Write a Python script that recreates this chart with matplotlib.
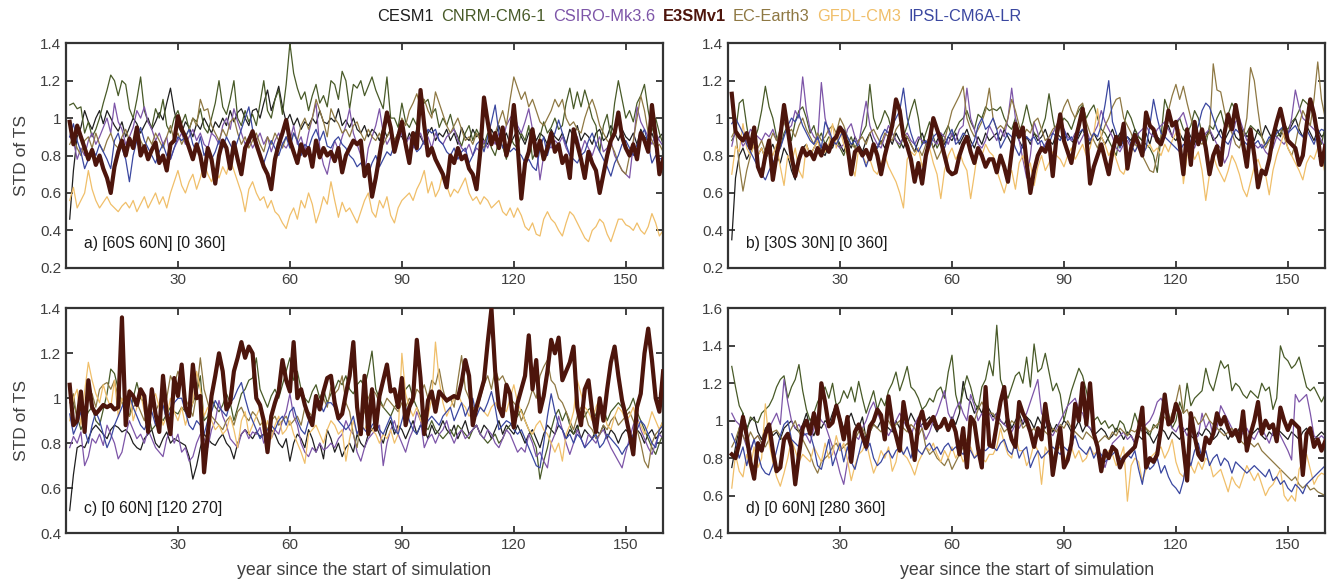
import numpy as np
import matplotlib
matplotlib.use('Agg')
import matplotlib.pyplot as plt
from matplotlib.ticker import FuncFormatter

plt.rcParams['font.family'] = ['Liberation Sans', 'DejaVu Sans']

# STD of TS (x100), one value per simulated year
years = np.arange(1, 161)
models = ['CESM1', 'CNRM-CM6-1', 'CSIRO-Mk3.6', 'E3SMv1', 'EC-Earth3', 'GFDL-CM3', 'IPSL-CM6A-LR']
colors = ['#1f1f1f', '#485a28', '#7d55a8', '#4d150c', '#8e7843', '#f0bf6a', '#3a47a0']
panel_labels = ['a) [60S 60N] [0 360]', 'b) [30S 30N] [0 360]',
                'c) [0 60N] [120 270]', 'd) [0 60N] [280 360]']
ylims = [(0.2, 1.4), (0.2, 1.4), (0.4, 1.4), (0.4, 1.6)]

# ---- panel a
cesm1_a = [46, 72, 90, 95, 104, 98, 94, 100, 104, 97, 104, 100, 96, 93, 98, 90, 95, 100, 97, 92,
           96, 100, 94, 98, 103, 99, 108, 116, 104, 96, 92, 98, 95, 90, 97, 94, 100, 96, 92, 98,
           95, 100, 96, 104, 98, 103, 105, 100, 96, 104, 105, 100, 108, 115, 104, 110, 117, 106, 98, 102,
           96, 100, 94, 98, 96, 100, 97, 104, 98, 97, 100, 98, 105, 96, 99, 95, 100, 94, 92, 96,
           90, 94, 92, 88, 95, 90, 94, 88, 92, 90, 86, 92, 88, 94, 90, 86, 92, 95, 88, 92,
           90, 94, 88, 92, 86, 95, 90, 88, 94, 90, 92, 88, 86, 94, 90, 96, 88, 92, 86, 90,
           94, 90, 86, 92, 95, 88, 92, 90, 86, 94, 90, 88, 92, 86, 94, 90, 96, 88, 92, 90,
           86, 92, 94, 88, 90, 96, 92, 88, 94, 90, 88, 92, 86, 94, 90, 88, 92, 86, 90, 92]
cnrm_a = [107, 108, 105, 106, 92, 98, 90, 94, 100, 108, 115, 123, 120, 112, 120, 118, 105, 100, 110, 122,
          104, 98, 95, 105, 100, 110, 96, 92, 100, 104, 97, 102, 94, 100, 98, 105, 95, 92, 100, 108,
          120, 106, 102, 110, 120, 100, 96, 104, 98, 102, 96, 108, 120, 104, 100, 110, 115, 102, 118, 140,
          124, 116, 110, 114, 104, 112, 118, 108, 112, 106, 120, 118, 110, 125, 120, 105, 118, 116, 120, 112,
          117, 122, 115, 110, 105, 122, 100, 100, 95, 108, 98, 95, 100, 96, 114, 108, 110, 102, 105, 95,
          100, 96, 102, 94, 90, 85, 92, 96, 88, 94, 90, 86, 92, 84, 80, 88, 85, 78, 90, 86,
          84, 92, 88, 96, 78, 83, 90, 98, 92, 95, 100, 94, 96, 108, 116, 105, 114, 106, 115, 108,
          100, 96, 82, 96, 102, 90, 108, 120, 110, 100, 104, 98, 108, 112, 118, 104, 93, 100, 92, 86]
csiro_a = [90, 88, 78, 84, 80, 88, 92, 86, 90, 95, 100, 92, 108, 98, 94, 86, 90, 95, 104, 100,
           106, 98, 94, 88, 92, 86, 90, 78, 84, 88, 92, 86, 90, 94, 88, 92, 86, 84, 92, 90,
           86, 96, 100, 94, 105, 98, 92, 86, 90, 84, 88, 92, 86, 90, 82, 88, 92, 86, 84, 88,
           96, 86, 90, 82, 92, 100, 108, 84, 75, 70, 80, 88, 83, 90, 96, 105, 92, 86, 80, 70,
           84, 90, 96, 105, 92, 86, 90, 84, 88, 92, 86, 90, 84, 88, 92, 86, 90, 84, 92, 88,
           86, 90, 92, 94, 88, 84, 82, 86, 80, 84, 82, 88, 84, 90, 86, 92, 88, 96, 100, 103,
           96, 92, 98, 105, 94, 86, 67, 80, 86, 84, 88, 86, 90, 84, 80, 86, 90, 82, 88, 84,
           80, 86, 90, 82, 84, 88, 80, 76, 72, 70, 68, 86, 106, 98, 94, 90, 86, 92, 88, 85]
e3sm_a = [98, 86, 96, 90, 84, 78, 83, 75, 80, 73, 68, 60, 74, 82, 88, 80, 89, 84, 95, 80,
          85, 78, 83, 87, 76, 80, 72, 86, 88, 101, 94, 90, 84, 78, 86, 80, 69, 84, 78, 65,
          80, 88, 84, 73, 87, 78, 70, 84, 88, 93, 86, 80, 74, 70, 62, 78, 86, 92, 99, 88,
          82, 76, 86, 80, 84, 74, 88, 79, 84, 80, 82, 77, 84, 71, 80, 84, 88, 86, 88, 69,
          75, 58, 68, 80, 92, 103, 95, 82, 90, 98, 86, 76, 92, 84, 115, 96, 80, 84, 78, 74,
          70, 63, 80, 76, 84, 78, 80, 73, 70, 62, 82, 111, 98, 86, 92, 84, 95, 80, 88, 107,
          86, 57, 76, 82, 94, 80, 88, 78, 84, 92, 82, 86, 76, 80, 68, 94, 86, 78, 68, 82,
          76, 72, 60, 70, 80, 88, 92, 103, 90, 84, 80, 86, 78, 92, 88, 82, 107, 90, 70, 78]
ec_a = [86, 90, 84, 80, 88, 90, 84, 92, 86, 82, 88, 92, 86, 84, 90, 94, 88, 86, 92, 88,
        84, 90, 86, 92, 88, 84, 90, 96, 88, 92, 86, 90, 94, 100, 96, 110, 104, 105, 96, 92,
        88, 94, 90, 98, 100, 92, 86, 90, 84, 88, 92, 86, 82, 90, 86, 92, 88, 84, 90, 86,
        92, 88, 96, 100, 94, 100, 110, 104, 98, 90, 105, 100, 97, 92, 94, 90, 96, 98, 92, 88,
        94, 90, 88, 92, 86, 90, 94, 88, 92, 100, 96, 104, 108, 113, 106, 110, 104, 100, 114, 108,
        102, 96, 92, 96, 100, 94, 88, 90, 86, 92, 88, 84, 90, 86, 92, 98, 104, 96, 110, 122,
        116, 110, 114, 106, 110, 104, 98, 96, 100, 104, 110, 106, 110, 100, 96, 98, 94, 92, 100, 106,
        110, 104, 96, 92, 88, 86, 82, 76, 72, 70, 80, 88, 100, 112, 104, 92, 88, 84, 86, 82]
gfdl_a = [56, 63, 52, 56, 60, 72, 62, 56, 52, 55, 58, 54, 52, 50, 53, 55, 52, 56, 50, 54,
          58, 52, 56, 60, 54, 58, 52, 60, 66, 72, 64, 60, 66, 70, 62, 68, 76, 70, 66, 72,
          68, 74, 70, 78, 72, 66, 60, 50, 62, 66, 60, 56, 58, 52, 56, 50, 48, 44, 41, 48,
          52, 46, 56, 52, 60, 54, 44, 50, 58, 54, 66, 56, 47, 55, 50, 52, 48, 44, 50, 56,
          60, 50, 47, 56, 52, 58, 48, 44, 52, 56, 58, 60, 56, 62, 66, 72, 60, 66, 58, 62,
          71, 64, 58, 62, 60, 64, 68, 60, 56, 58, 54, 58, 56, 52, 54, 56, 50, 48, 52, 47,
          52, 48, 42, 40, 44, 38, 37, 46, 50, 46, 44, 40, 37, 44, 50, 48, 44, 40, 36, 34,
          40, 42, 46, 44, 38, 34, 40, 46, 46, 43, 42, 40, 44, 40, 38, 42, 49, 44, 37, 40]
ipsl_a = [90, 97, 88, 82, 73, 78, 84, 80, 86, 82, 78, 73, 88, 92, 84, 78, 66, 80, 88, 95,
          88, 84, 80, 76, 82, 86, 80, 78, 84, 90, 88, 90, 94, 86, 82, 90, 80, 84, 78, 82,
          88, 84, 90, 86, 82, 88, 94, 100, 106, 94, 86, 80, 76, 82, 88, 84, 80, 86, 90, 84,
          92, 88, 80, 86, 84, 90, 94, 88, 93, 85, 84, 88, 90, 86, 84, 80, 78, 74, 76, 72,
          70, 76, 80, 74, 78, 82, 80, 86, 90, 94, 84, 80, 86, 82, 84, 88, 94, 92, 94, 88,
          86, 82, 80, 84, 78, 82, 84, 76, 80, 86, 88, 82, 90, 98, 107, 92, 84, 86, 82, 84,
          82, 80, 76, 78, 74, 72, 84, 90, 80, 88, 92, 99, 92, 86, 80, 78, 76, 80, 82, 88,
          92, 86, 82, 78, 74, 69, 76, 80, 86, 88, 84, 80, 86, 90, 94, 86, 76, 80, 78, 79]

# ---- panel b
cesm1_b = [35, 68, 80, 84, 78, 82, 86, 80, 84, 78, 82, 86, 80, 76, 84, 80, 72, 67, 78, 84,
           86, 80, 84, 88, 82, 80, 86, 84, 90, 86, 82, 88, 84, 90, 86, 82, 88, 92, 86, 84,
           88, 84, 90, 86, 92, 88, 84, 90, 86, 82, 88, 92, 86, 90, 84, 88, 92, 86, 90, 88,
           92, 86, 90, 94, 88, 84, 90, 86, 92, 88, 90, 92, 88, 94, 90, 86, 92, 88, 84, 90,
           86, 92, 88, 90, 94, 88, 86, 92, 90, 88, 92, 88, 86, 90, 94, 90, 86, 92, 88, 90,
           86, 90, 94, 88, 92, 86, 90, 88, 94, 90, 88, 92, 86, 94, 90, 88, 92, 96, 90, 88,
           92, 88, 94, 90, 86, 92, 88, 90, 94, 88, 90, 94, 88, 92, 96, 90, 88, 94, 90, 92,
           88, 94, 90, 96, 92, 88, 94, 90, 98, 92, 96, 100, 94, 90, 96, 92, 88, 94, 90, 92]
cnrm_b = [88, 92, 108, 110, 96, 84, 88, 94, 104, 117, 106, 100, 90, 84, 92, 96, 88, 98, 104, 106,
          100, 92, 96, 88, 92, 86, 90, 88, 90, 84, 80, 86, 90, 84, 88, 92, 96, 118, 100, 94,
          98, 104, 100, 92, 88, 84, 90, 96, 104, 110, 100, 86, 92, 98, 90, 84, 88, 92, 96, 90,
          94, 98, 100, 104, 98, 94, 102, 100, 106, 104, 105, 104, 106, 100, 96, 94, 100, 92, 98, 107,
          98, 92, 90, 94, 100, 113, 100, 90, 96, 100, 98, 94, 100, 104, 107, 100, 104, 107, 100, 94,
          92, 88, 84, 80, 90, 96, 104, 100, 94, 90, 88, 86, 84, 80, 71, 90, 110, 104, 98, 96,
          100, 94, 92, 96, 104, 100, 92, 86, 96, 94, 100, 104, 96, 102, 108, 104, 96, 90, 92, 96,
          94, 92, 90, 86, 88, 92, 90, 92, 96, 94, 98, 100, 104, 110, 108, 106, 100, 92, 86, 96]
csiro_b = [85, 94, 90, 85, 88, 94, 92, 90, 88, 92, 90, 94, 88, 92, 98, 94, 96, 104, 100, 122,
           104, 94, 90, 88, 119, 100, 92, 88, 86, 84, 86, 94, 97, 90, 86, 98, 109, 96, 90, 86,
           84, 90, 96, 92, 88, 86, 90, 92, 88, 86, 90, 88, 86, 90, 88, 86, 92, 90, 86, 92,
           88, 94, 96, 116, 100, 94, 86, 84, 88, 96, 92, 88, 94, 90, 100, 116, 100, 88, 78, 68,
           80, 98, 92, 83, 86, 90, 92, 96, 100, 94, 90, 88, 92, 86, 90, 94, 88, 92, 96, 104,
           98, 94, 90, 84, 82, 86, 88, 84, 86, 92, 94, 96, 92, 90, 94, 96, 98, 94, 90, 98,
           100, 103, 96, 86, 84, 90, 88, 92, 94, 90, 86, 84, 76, 80, 90, 98, 100, 94, 88, 90,
           86, 84, 86, 82, 80, 84, 90, 88, 86, 90, 100, 115, 106, 100, 98, 96, 94, 92, 88, 84]
e3sm_b = [113, 93, 90, 88, 92, 84, 95, 74, 69, 80, 88, 67, 80, 90, 107, 94, 80, 69, 78, 84,
          80, 82, 78, 84, 80, 86, 82, 88, 90, 95, 92, 85, 70, 82, 84, 80, 83, 78, 86, 80,
          70, 80, 88, 96, 110, 104, 90, 85, 78, 66, 76, 65, 80, 88, 100, 94, 88, 80, 72, 70,
          71, 80, 86, 90, 82, 76, 84, 80, 74, 78, 78, 71, 80, 74, 66, 82, 97, 90, 95, 76,
          60, 72, 80, 84, 82, 88, 69, 90, 102, 88, 82, 76, 88, 96, 105, 90, 65, 74, 80, 86,
          78, 70, 82, 90, 86, 97, 73, 84, 91, 86, 80, 103, 96, 94, 88, 86, 92, 104, 96, 98,
          86, 70, 94, 75, 98, 86, 94, 84, 70, 80, 85, 75, 92, 102, 94, 107, 96, 86, 74, 94,
          80, 63, 72, 70, 78, 90, 98, 105, 96, 88, 86, 84, 75, 80, 96, 110, 102, 90, 75, 85]
ec_b = [90, 94, 75, 61, 72, 80, 86, 84, 88, 82, 86, 92, 88, 94, 98, 92, 94, 90, 96, 100,
        94, 90, 86, 92, 88, 90, 94, 96, 92, 100, 96, 90, 86, 84, 88, 90, 86, 92, 94, 90,
        86, 92, 90, 88, 94, 97, 92, 90, 86, 82, 84, 80, 86, 90, 84, 78, 82, 88, 96, 104,
        108, 112, 117, 100, 94, 90, 94, 98, 104, 116, 100, 94, 96, 94, 100, 110, 104, 96, 90, 94,
        92, 98, 100, 94, 88, 90, 94, 96, 100, 106, 110, 104, 100, 106, 108, 98, 92, 88, 84, 90,
        96, 100, 106, 110, 111, 100, 96, 92, 86, 84, 80, 76, 72, 71, 80, 90, 96, 104, 112, 118,
        110, 117, 108, 100, 92, 88, 86, 90, 92, 129, 115, 114, 104, 96, 92, 86, 84, 90, 100, 127,
        120, 104, 90, 84, 88, 90, 92, 94, 90, 84, 80, 86, 96, 104, 100, 96, 110, 130, 110, 100]
gfdl_b = [70, 85, 82, 97, 84, 80, 86, 80, 84, 78, 84, 80, 86, 74, 64, 80, 76, 84, 72, 68,
          86, 80, 84, 88, 80, 82, 86, 97, 84, 94, 86, 80, 76, 69, 84, 80, 76, 78, 72, 70,
          76, 80, 74, 70, 66, 60, 52, 78, 82, 80, 84, 74, 80, 84, 76, 70, 57, 72, 80, 84,
          78, 82, 76, 72, 57, 70, 84, 80, 86, 82, 80, 72, 66, 60, 68, 72, 62, 76, 80, 72,
          76, 64, 74, 80, 72, 76, 82, 80, 78, 74, 80, 84, 78, 82, 86, 80, 84, 92, 105, 90,
          86, 80, 84, 78, 72, 70, 76, 84, 82, 86, 80, 84, 86, 82, 84, 80, 86, 82, 88, 92,
          94, 65, 80, 84, 78, 82, 72, 56, 70, 80, 74, 70, 66, 72, 80, 76, 70, 62, 58, 66,
          74, 78, 72, 70, 59, 72, 80, 86, 92, 84, 80, 76, 72, 67, 76, 80, 78, 84, 80, 70]
ipsl_b = [97, 100, 96, 92, 86, 82, 78, 74, 70, 67, 72, 76, 80, 84, 90, 96, 100, 98, 102, 96,
          92, 88, 86, 90, 84, 98, 94, 88, 86, 90, 94, 90, 86, 88, 84, 80, 74, 80, 86, 84,
          90, 94, 92, 96, 100, 104, 116, 100, 92, 86, 82, 86, 88, 84, 90, 92, 86, 84, 90, 94,
          86, 88, 92, 90, 84, 88, 96, 100, 94, 96, 100, 94, 84, 88, 92, 90, 84, 80, 86, 90,
          88, 90, 86, 88, 84, 86, 92, 90, 88, 94, 88, 90, 86, 92, 94, 90, 88, 92, 90, 96,
          107, 120, 98, 92, 84, 88, 90, 86, 82, 86, 80, 84, 96, 110, 100, 92, 90, 88, 86, 84,
          82, 86, 84, 88, 90, 96, 104, 108, 106, 100, 94, 90, 88, 86, 90, 94, 92, 88, 86, 84,
          86, 88, 84, 86, 90, 88, 92, 94, 96, 92, 94, 96, 92, 90, 94, 90, 86, 92, 94, 93]

# ---- panel c
cesm1_c = [50, 66, 78, 79, 78, 82, 86, 88, 86, 84, 82, 86, 88, 87, 85, 86, 84, 80, 78, 77,
           82, 84, 86, 80, 78, 82, 85, 80, 82, 81, 80, 79, 74, 64, 70, 78, 84, 82, 80, 79,
           82, 84, 80, 78, 73, 80, 84, 86, 84, 82, 85, 83, 84, 82, 86, 84, 80, 78, 82, 72,
           80, 84, 82, 78, 86, 82, 76, 80, 73, 86, 82, 76, 80, 74, 78, 80, 76, 84, 80, 78,
           84, 86, 88, 84, 80, 86, 90, 84, 88, 86, 82, 86, 90, 84, 88, 86, 82, 88, 84, 86,
           90, 86, 84, 88, 82, 86, 90, 84, 86, 88, 84, 88, 86, 82, 86, 90, 84, 88, 86, 84,
           88, 84, 80, 84, 86, 82, 78, 84, 88, 86, 84, 88, 86, 82, 86, 84, 88, 82, 86, 84,
           82, 86, 84, 88, 82, 86, 84, 80, 84, 86, 84, 82, 86, 84, 80, 84, 86, 82, 84, 86]
cnrm_c = [102, 98, 92, 86, 90, 94, 96, 90, 88, 95, 102, 113, 111, 104, 98, 96, 92, 100, 107, 100,
          98, 94, 86, 88, 92, 90, 93, 96, 94, 93, 96, 94, 92, 98, 102, 110, 90, 92, 100, 96,
          94, 97, 102, 98, 90, 96, 102, 104, 108, 109, 118, 104, 100, 96, 101, 104, 100, 106, 112, 118,
          108, 112, 104, 100, 98, 103, 106, 100, 104, 98, 102, 104, 108, 106, 110, 104, 102, 106, 108, 105,
          112, 121, 104, 100, 96, 94, 92, 96, 98, 100, 104, 106, 100, 96, 92, 88, 86, 90, 86, 84,
          82, 84, 86, 83, 88, 86, 84, 82, 86, 88, 84, 82, 80, 82, 84, 80, 82, 86, 88, 90,
          92, 95, 90, 86, 82, 78, 64, 72, 78, 86, 92, 95, 90, 94, 88, 84, 86, 90, 92, 95,
          96, 92, 94, 96, 90, 94, 96, 98, 96, 94, 96, 100, 94, 90, 86, 82, 78, 75, 80, 84]
csiro_c = [78, 83, 80, 85, 70, 74, 82, 80, 84, 79, 88, 84, 80, 73, 76, 84, 90, 86, 82, 84,
           80, 86, 82, 78, 76, 74, 82, 86, 80, 84, 76, 78, 72, 74, 80, 84, 82, 78, 86, 90,
           99, 92, 88, 82, 80, 78, 84, 86, 82, 85, 84, 87, 80, 84, 82, 86, 84, 90, 94, 102,
           92, 88, 80, 76, 74, 78, 76, 80, 77, 78, 80, 78, 82, 84, 90, 86, 84, 76, 72, 78,
           82, 84, 86, 88, 70, 80, 86, 90, 84, 80, 76, 82, 86, 94, 90, 78, 82, 84, 80, 84,
           86, 90, 84, 80, 84, 86, 82, 84, 86, 88, 84, 82, 86, 84, 80, 78, 82, 86, 84, 80,
           76, 78, 76, 84, 80, 74, 76, 72, 69, 80, 84, 92, 86, 80, 75, 80, 86, 82, 78, 84,
           82, 80, 84, 86, 82, 78, 75, 72, 69, 76, 82, 88, 92, 86, 82, 78, 75, 80, 84, 82]
e3sm_c = [106, 88, 90, 103, 85, 108, 96, 93, 95, 97, 96, 97, 95, 96, 136, 88, 103, 101, 97, 104,
          101, 85, 104, 93, 85, 110, 93, 84, 109, 101, 115, 96, 92, 115, 100, 101, 67, 84, 101, 110,
          120, 112, 95, 98, 112, 118, 125, 118, 123, 120, 100, 97, 90, 76, 92, 98, 103, 117, 108, 103,
          125, 100, 104, 97, 92, 88, 101, 95, 103, 109, 110, 98, 91, 93, 102, 110, 125, 96, 84, 110,
          84, 104, 86, 101, 108, 115, 103, 104, 96, 109, 88, 96, 100, 126, 109, 84, 99, 103, 94, 103,
          101, 99, 100, 101, 100, 107, 117, 110, 88, 96, 102, 108, 125, 140, 112, 96, 92, 106, 102, 87,
          98, 104, 110, 128, 104, 117, 94, 101, 112, 126, 120, 127, 108, 112, 116, 123, 96, 88, 104, 108,
          94, 85, 100, 90, 104, 116, 123, 110, 99, 92, 84, 75, 96, 102, 120, 131, 117, 100, 94, 112]
ec_c = [98, 102, 90, 96, 94, 99, 102, 96, 104, 106, 107, 104, 108, 100, 98, 94, 92, 96, 98, 94,
        90, 96, 100, 94, 98, 104, 100, 110, 106, 112, 108, 100, 96, 92, 102, 118, 104, 98, 92, 90,
        88, 86, 90, 92, 88, 94, 96, 92, 90, 94, 92, 88, 90, 86, 90, 92, 88, 90, 92, 88,
        90, 92, 88, 96, 94, 92, 96, 98, 100, 96, 105, 102, 104, 110, 98, 94, 84, 78, 90, 94,
        100, 104, 102, 98, 96, 100, 98, 96, 94, 98, 96, 100, 98, 104, 102, 106, 100, 108, 106, 113,
        104, 98, 100, 96, 108, 119, 104, 100, 96, 94, 100, 106, 110, 104, 113, 108, 110, 106, 100, 98,
        96, 90, 94, 98, 104, 100, 110, 114, 117, 108, 106, 100, 98, 94, 90, 86, 92, 96, 94, 88,
        86, 82, 84, 88, 86, 90, 92, 88, 90, 92, 94, 90, 86, 80, 72, 69, 80, 84, 86, 90]
gfdl_c = [90, 100, 104, 88, 103, 116, 108, 102, 98, 106, 100, 96, 108, 92, 100, 96, 104, 90, 96, 102,
          94, 90, 98, 102, 96, 88, 92, 100, 94, 90, 96, 88, 94, 98, 112, 104, 92, 96, 90, 86,
          88, 84, 86, 92, 86, 78, 90, 94, 84, 88, 92, 96, 84, 90, 82, 88, 92, 84, 86, 90,
          84, 80, 76, 71, 84, 86, 88, 84, 80, 86, 90, 88, 84, 86, 72, 82, 90, 84, 88, 86,
          90, 86, 84, 80, 84, 82, 86, 80, 84, 120, 102, 96, 92, 96, 90, 88, 92, 100, 125, 108,
          98, 92, 96, 100, 102, 98, 96, 92, 94, 98, 96, 94, 92, 96, 98, 95, 96, 94, 100, 106,
          98, 94, 90, 86, 84, 88, 90, 86, 84, 80, 76, 80, 72, 84, 88, 94, 108, 102, 96, 94,
          90, 96, 100, 94, 88, 86, 92, 96, 94, 90, 92, 96, 90, 88, 84, 88, 94, 90, 86, 90]
ipsl_c = [93, 84, 88, 94, 86, 80, 88, 94, 90, 84, 78, 82, 88, 92, 96, 100, 102, 96, 92, 88,
          86, 90, 94, 88, 92, 97, 90, 94, 98, 100, 100, 94, 88, 86, 90, 88, 84, 90, 94, 99,
          96, 94, 92, 98, 100, 104, 107, 100, 94, 90, 86, 82, 84, 86, 88, 86, 90, 92, 88, 94,
          96, 90, 86, 84, 90, 92, 96, 98, 94, 98, 98, 96, 90, 88, 86, 88, 92, 84, 88, 86,
          84, 88, 90, 86, 84, 88, 92, 86, 84, 90, 96, 90, 86, 84, 88, 86, 90, 92, 90, 88,
          92, 94, 96, 90, 94, 98, 92, 96, 100, 92, 96, 94, 98, 103, 96, 86, 88, 90, 89, 86,
          84, 86, 82, 78, 74, 70, 69, 80, 92, 102, 94, 88, 86, 82, 84, 80, 84, 82, 78, 80,
          82, 84, 78, 80, 84, 82, 80, 78, 75, 78, 80, 84, 86, 90, 88, 84, 80, 78, 86, 88]

# ---- panel d
cesm1_d = [75, 86, 96, 104, 96, 100, 102, 94, 90, 96, 98, 92, 94, 90, 96, 98, 100, 96, 94, 98,
           104, 96, 92, 98, 96, 100, 98, 104, 109, 102, 96, 100, 104, 98, 96, 102, 90, 94, 98, 96,
           100, 98, 96, 94, 100, 96, 102, 98, 104, 100, 96, 98, 100, 102, 98, 94, 98, 100, 96, 102,
           98, 104, 121, 112, 110, 104, 108, 104, 110, 106, 102, 104, 100, 98, 102, 96, 100, 104, 98, 102,
           100, 96, 102, 98, 96, 100, 94, 98, 96, 100, 98, 94, 96, 100, 94, 98, 96, 92, 94, 96,
           94, 90, 92, 96, 94, 90, 94, 92, 88, 92, 90, 94, 92, 88, 92, 96, 94, 90, 94, 92,
           90, 94, 96, 92, 90, 94, 92, 96, 94, 90, 92, 96, 94, 90, 94, 92, 96, 94, 90, 92,
           94, 96, 92, 90, 94, 92, 96, 94, 92, 90, 94, 92, 90, 94, 96, 92, 90, 92, 94, 92]
cnrm_d = [129, 118, 108, 104, 94, 102, 100, 99, 104, 106, 108, 112, 118, 122, 124, 112, 118, 122, 130, 116,
          106, 100, 104, 110, 114, 118, 112, 120, 108, 110, 116, 112, 118, 110, 121, 112, 104, 110, 116, 106,
          112, 108, 116, 120, 126, 116, 122, 129, 118, 116, 112, 106, 108, 112, 110, 116, 118, 112, 126, 135,
          114, 106, 116, 124, 118, 110, 106, 118, 122, 132, 124, 151, 122, 116, 112, 118, 124, 126, 120, 134,
          118, 141, 126, 128, 136, 126, 116, 120, 114, 100, 108, 116, 122, 128, 124, 116, 106, 100, 102, 98,
          100, 96, 98, 94, 100, 98, 92, 96, 104, 98, 94, 96, 92, 98, 96, 104, 110, 104, 96, 100,
          110, 104, 120, 108, 112, 114, 116, 128, 120, 116, 124, 132, 128, 130, 116, 120, 118, 114, 112, 116,
          114, 112, 120, 116, 118, 106, 112, 140, 134, 132, 128, 130, 134, 126, 118, 116, 118, 114, 110, 114]
csiro_d = [104, 100, 98, 92, 86, 84, 90, 92, 88, 92, 96, 100, 104, 98, 122, 110, 100, 96, 98, 94,
           92, 88, 96, 104, 100, 98, 92, 86, 80, 72, 66, 78, 86, 92, 90, 96, 100, 106, 110, 104,
           100, 96, 92, 96, 100, 104, 100, 96, 92, 98, 102, 96, 90, 94, 100, 104, 110, 116, 104, 100,
           106, 110, 104, 100, 114, 108, 100, 104, 98, 104, 100, 104, 100, 98, 96, 94, 98, 96, 100, 104,
           110, 116, 122, 104, 100, 94, 92, 96, 100, 104, 108, 110, 112, 106, 104, 98, 96, 94, 86, 80,
           75, 82, 88, 90, 92, 94, 90, 92, 88, 94, 96, 98, 100, 104, 110, 112, 108, 100, 96, 94,
           98, 96, 92, 96, 90, 92, 104, 96, 100, 92, 96, 108, 104, 100, 96, 92, 90, 94, 96, 92,
           90, 94, 96, 92, 88, 94, 96, 92, 88, 84, 79, 114, 110, 112, 114, 104, 92, 90, 92, 90]
e3sm_d = [82, 80, 88, 102, 92, 78, 69, 88, 84, 93, 98, 84, 73, 75, 90, 93, 86, 66, 82, 96,
          100, 93, 104, 93, 120, 110, 97, 99, 108, 100, 90, 102, 78, 94, 98, 92, 86, 97, 100, 106,
          103, 90, 113, 99, 92, 84, 110, 98, 93, 79, 99, 105, 96, 99, 102, 96, 97, 101, 95, 100,
          94, 82, 96, 75, 102, 99, 85, 75, 118, 87, 86, 98, 110, 118, 98, 90, 86, 110, 104, 100,
          94, 86, 96, 90, 109, 95, 71, 84, 96, 75, 79, 88, 109, 100, 120, 98, 120, 93, 86, 73,
          84, 80, 86, 84, 75, 80, 82, 84, 86, 95, 107, 75, 80, 78, 82, 96, 114, 98, 100, 109,
          104, 86, 68, 104, 92, 82, 79, 91, 88, 93, 104, 98, 102, 96, 92, 95, 89, 105, 84, 93,
          100, 110, 93, 100, 96, 98, 89, 107, 100, 95, 100, 98, 96, 71, 93, 96, 86, 90, 84, 89]
ec_d = [86, 90, 96, 92, 88, 94, 90, 92, 88, 86, 90, 94, 95, 92, 88, 92, 96, 100, 94, 90,
        86, 82, 76, 72, 78, 80, 82, 86, 88, 84, 86, 88, 84, 90, 94, 96, 92, 94, 98, 96,
        94, 98, 100, 96, 98, 100, 96, 94, 98, 96, 92, 96, 86, 82, 84, 80, 78, 76, 80, 74,
        78, 82, 86, 90, 96, 100, 106, 110, 106, 104, 104, 100, 98, 94, 96, 100, 98, 102, 96, 98,
        94, 96, 92, 96, 94, 92, 96, 94, 98, 96, 100, 96, 94, 92, 90, 94, 92, 90, 88, 90,
        92, 90, 94, 92, 96, 94, 92, 95, 94, 96, 98, 96, 94, 96, 98, 100, 102, 98, 104, 110,
        119, 104, 106, 100, 102, 98, 100, 104, 100, 98, 96, 94, 92, 94, 96, 92, 90, 88, 86, 88,
        86, 88, 84, 82, 80, 78, 76, 74, 72, 70, 68, 70, 66, 64, 66, 63, 64, 62, 61, 60]
gfdl_d = [64, 82, 73, 70, 82, 75, 86, 75, 80, 109, 88, 78, 70, 65, 72, 80, 90, 84, 78, 82,
          80, 78, 86, 82, 78, 88, 80, 82, 92, 84, 88, 79, 68, 76, 82, 84, 89, 80, 72, 77,
          84, 80, 86, 73, 78, 90, 82, 80, 76, 71, 78, 82, 86, 84, 88, 82, 78, 84, 80, 86,
          80, 84, 78, 82, 86, 80, 84, 80, 78, 82, 82, 86, 96, 88, 82, 80, 92, 84, 84, 76,
          80, 88, 84, 66, 86, 82, 80, 84, 86, 78, 82, 86, 80, 84, 78, 80, 86, 82, 84, 78,
          80, 84, 82, 76, 80, 86, 57, 76, 80, 78, 68, 74, 80, 82, 84, 86, 80, 84, 90, 78,
          72, 70, 74, 76, 72, 78, 74, 80, 78, 70, 72, 74, 68, 62, 70, 66, 64, 70, 76, 72,
          68, 72, 66, 60, 64, 66, 70, 74, 60, 57, 60, 57, 74, 78, 82, 74, 66, 70, 72, 71]
ipsl_d = [93, 88, 80, 86, 76, 84, 90, 82, 75, 72, 71, 76, 84, 92, 98, 100, 90, 88, 86, 92,
          93, 93, 86, 76, 74, 82, 90, 76, 82, 88, 78, 86, 78, 74, 82, 90, 84, 88, 80, 76,
          78, 82, 84, 80, 84, 86, 82, 86, 80, 88, 84, 82, 86, 88, 84, 86, 82, 86, 88, 84,
          86, 84, 82, 86, 84, 80, 82, 85, 84, 86, 86, 84, 88, 90, 84, 82, 88, 80, 84, 86,
          75, 80, 84, 80, 82, 84, 86, 84, 82, 86, 84, 88, 92, 86, 84, 82, 86, 80, 84, 82,
          78, 80, 82, 84, 80, 78, 82, 80, 84, 74, 66, 78, 74, 76, 80, 72, 76, 70, 66, 64,
          61, 68, 82, 76, 84, 88, 80, 84, 76, 80, 82, 76, 80, 78, 72, 78, 76, 74, 72, 74,
          76, 74, 72, 70, 74, 68, 70, 66, 68, 64, 62, 66, 64, 61, 66, 68, 70, 72, 74, 76]

panels = [
    [cesm1_a, cnrm_a, csiro_a, e3sm_a, ec_a, gfdl_a, ipsl_a],
    [cesm1_b, cnrm_b, csiro_b, e3sm_b, ec_b, gfdl_b, ipsl_b],
    [cesm1_c, cnrm_c, csiro_c, e3sm_c, ec_c, gfdl_c, ipsl_c],
    [cesm1_d, cnrm_d, csiro_d, e3sm_d, ec_d, gfdl_d, ipsl_d],
]

txt = '#404040'
fig = plt.figure(figsize=(13.3, 5.81), dpi=100)
w, h = 0.449, 0.3866
boxes = [(0.0496, 0.539), (0.5474, 0.539), (0.0496, 0.0826), (0.5474, 0.0826)]

handles = []
for i, (x0, y0) in enumerate(boxes):
    ax = fig.add_axes([x0, y0, w, h])
    for j, name in enumerate(models):
        vals = np.array(panels[i][j]) / 100.0
        if name == 'E3SMv1':
            ln, = ax.plot(years, vals, color=colors[j], lw=3.0, zorder=5, label=name)
        else:
            ln, = ax.plot(years, vals, color=colors[j], lw=0.9, zorder=2, label=name)
        if i == 0:
            handles.append(ln)
    ax.set_xlim(0, 160)
    ax.set_ylim(*ylims[i])
    ax.set_xticks([30, 60, 90, 120, 150])
    ax.set_yticks(np.arange(ylims[i][0], ylims[i][1] + 0.01, 0.2))
    ax.yaxis.set_major_formatter(FuncFormatter(lambda v, p: '%g' % round(v, 1)))
    ax.tick_params(direction='in', top=True, right=True, length=5, width=1.3,
                   colors='#333333', labelcolor=txt, labelsize=11)
    for s in ax.spines.values():
        s.set_linewidth(1.6)
        s.set_color('#333333')
    ax.text(0.03, 0.11, panel_labels[i], transform=ax.transAxes, fontsize=11.3,
            color='#1a1a1a', va='center')
    if i in (0, 2):
        ax.set_ylabel('STD of TS', fontsize=12.5, color=txt, labelpad=8)
    if i in (2, 3):
        ax.set_xlabel('year since the start of simulation', fontsize=12.8, color=txt, labelpad=7)

leg = fig.legend(handles, models, loc='center', bbox_to_anchor=(0.526, 0.972), ncol=7,
                 frameon=False, handlelength=0, handletextpad=0, columnspacing=0.45,
                 fontsize=11.8)
for t, c, name in zip(leg.get_texts(), colors, models):
    t.set_color(c)
    if name == 'E3SMv1':
        t.set_fontweight('bold')
for lh in leg.legend_handles:
    lh.set_visible(False)

fig.savefig('out.png', dpi=100)
